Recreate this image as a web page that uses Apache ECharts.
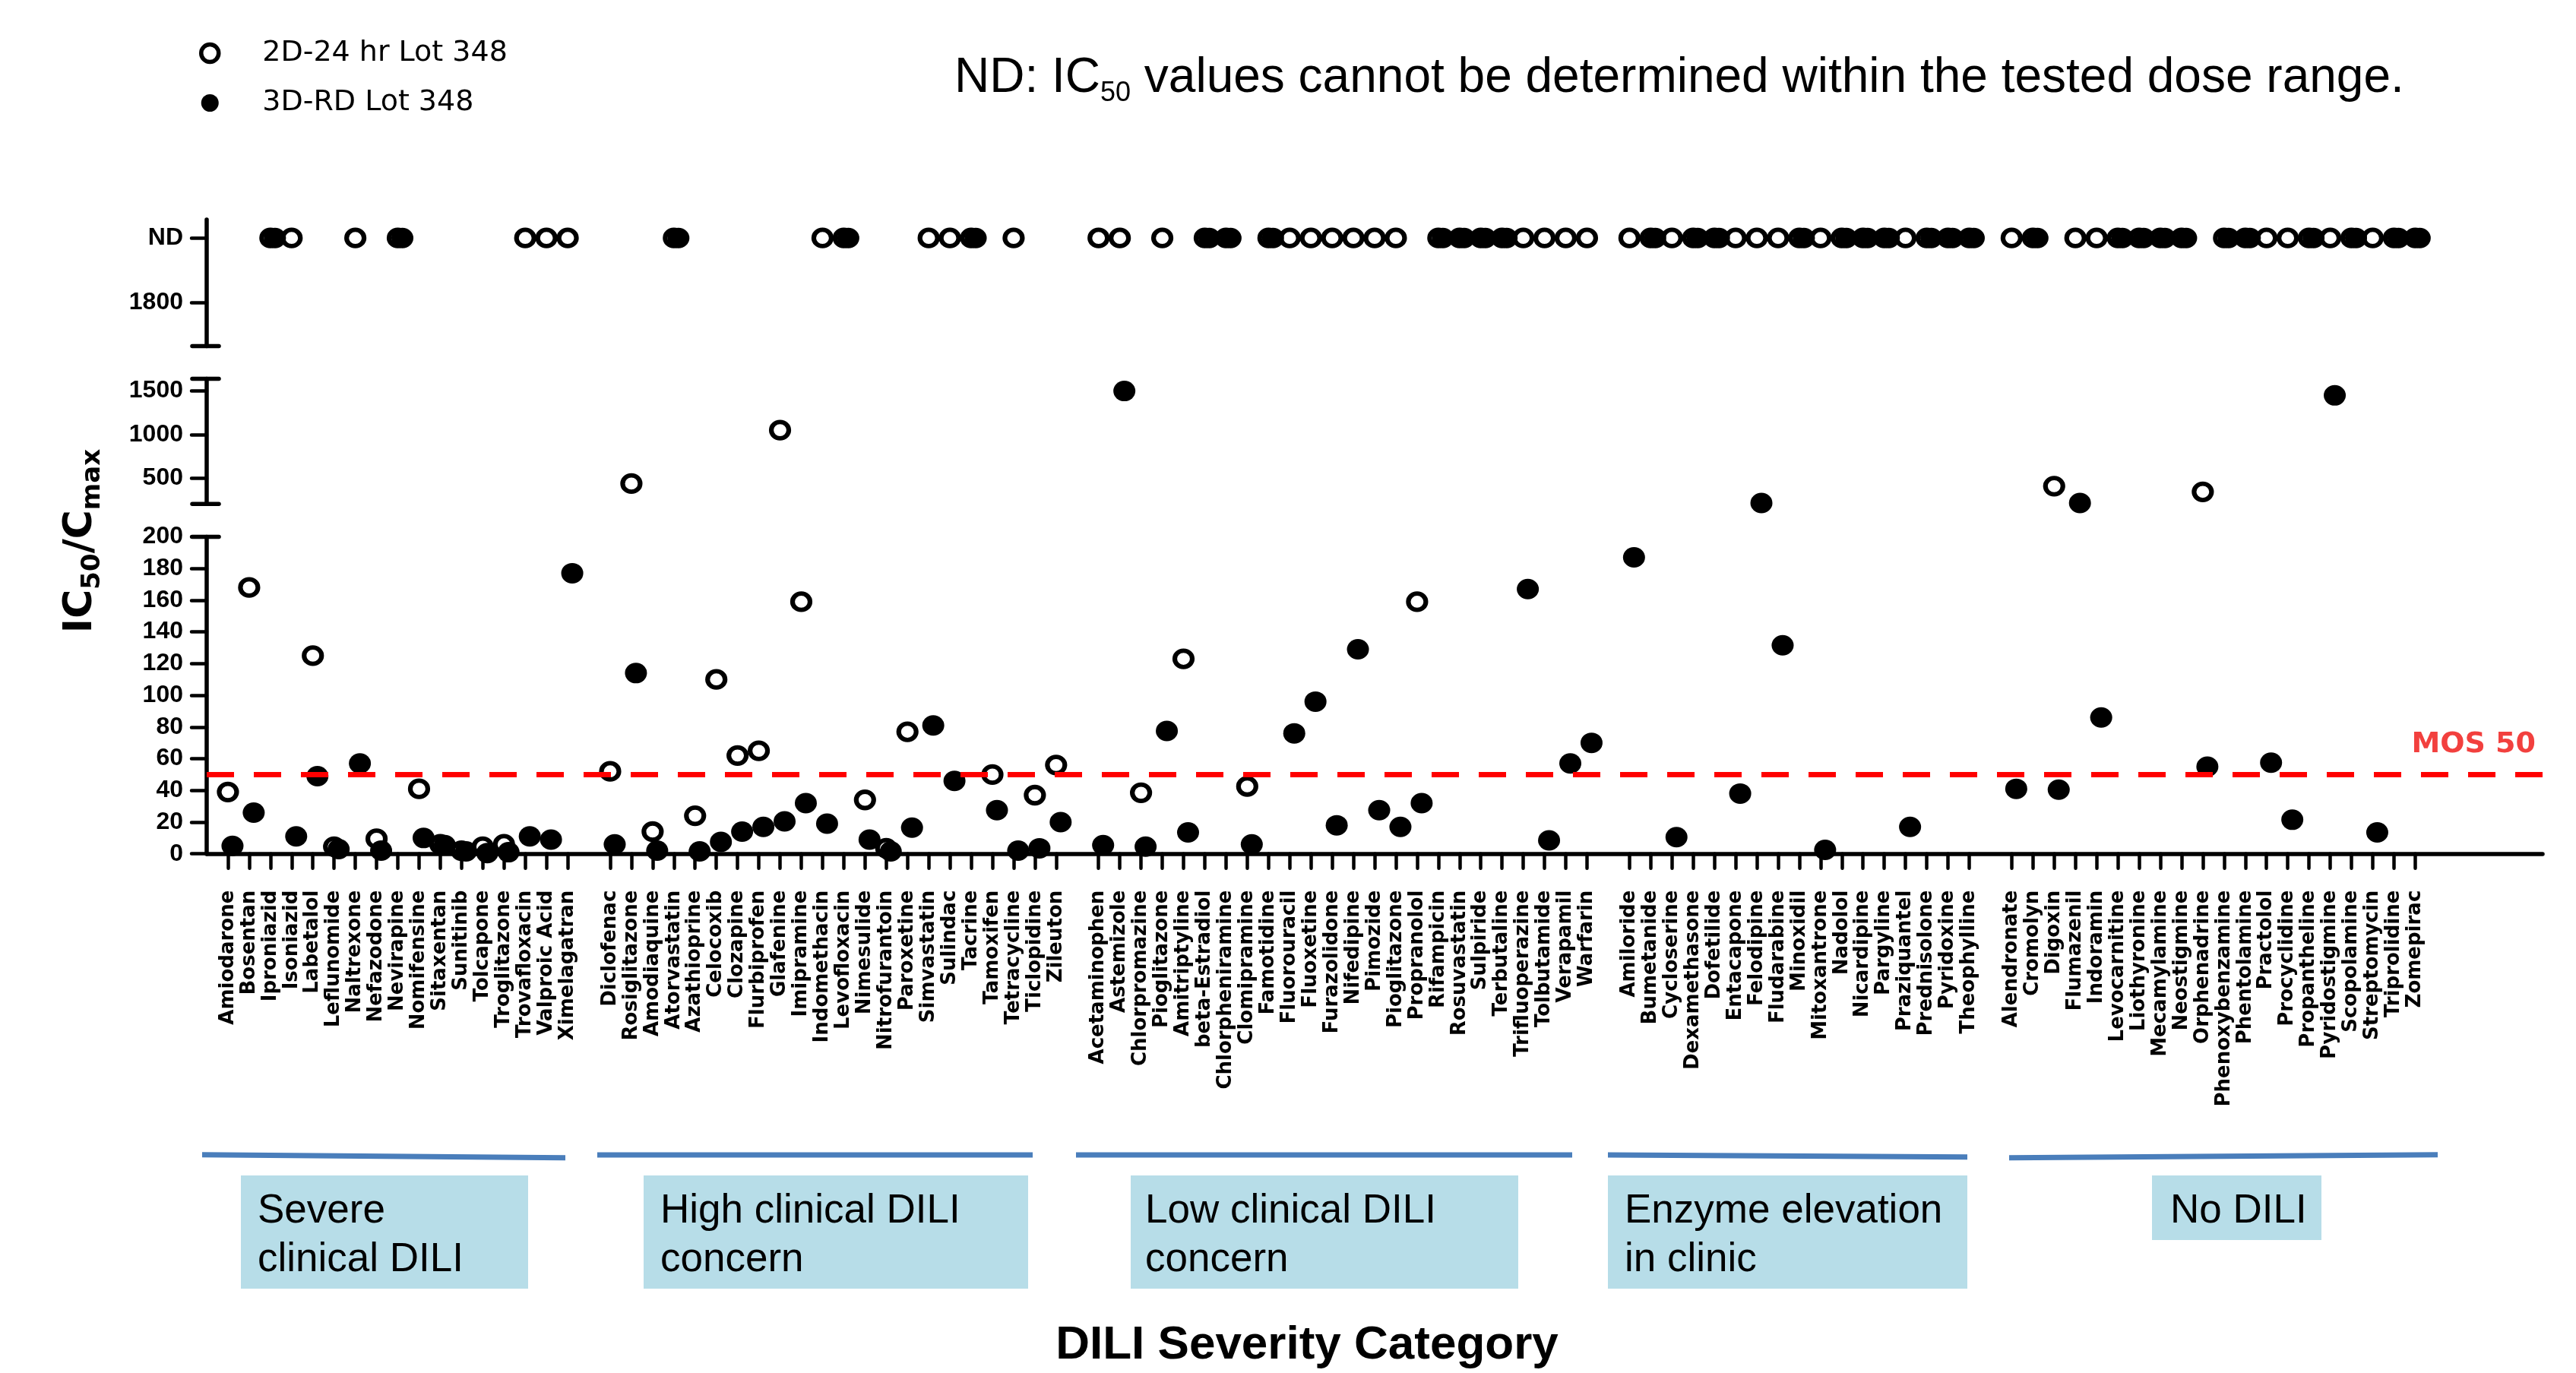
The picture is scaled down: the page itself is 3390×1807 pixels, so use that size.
<!DOCTYPE html>
<html><head><meta charset="utf-8">
<script src="https://cdn.jsdelivr.net/npm/echarts@6/dist/echarts.min.js"></script>
<style>html,body{margin:0;padding:0;background:#fff}#c{width:3390px;height:1807px}</style>
</head><body><div id="c"></div>
<script>
// ---------------- DATA ----------------
const ND = 'ND';
const NAME_2D = '2D-24 hr Lot 348';
const NAME_3D = '3D-RD Lot 348';

const severeDrugs = ['Amiodarone','Bosentan','Iproniazid','Isoniazid','Labetalol','Leflunomide','Naltrexone','Nefazodone','Nevirapine','Nomifensine','Sitaxentan','Sunitinib','Tolcapone','Troglitazone','Trovafloxacin','Valproic Acid','Ximelagatran'];
const severe2D = [39, 168, ND, ND, 125, 4.5, ND, 9.5, ND, 41, 6, 2, 4.5, 6, ND, ND, ND];
const severe3D = [5, 26, ND, 11, 49, 3, 57, 2, ND, 10, 5.5, 1.5, 0.5, 1, 11, 9, 177];

const highDrugs = ['Diclofenac','Rosiglitazone','Amodiaquine','Atorvastatin','Azathioprine','Celocoxib','Clozapine','Flurbiprofen','Glafenine','Imipramine','Indomethacin','Levofloxacin','Nimesulide','Nitrofurantoin','Paroxetine','Simvastatin','Sulindac','Tacrine','Tamoxifen','Tetracycline','Ticlopidine','Zileuton'];
const high2D = [52, 435, 14, ND, 24, 110, 62, 65, 1050, 159, ND, ND, 34, 3.5, 77, ND, ND, ND, 50, ND, 37, 56];
const high3D = [6, 114, 2, ND, 1.5, 7.5, 14, 17, 20.5, 32, 19, ND, 9, 1.5, 16.5, 81, 46, ND, 27.5, 2, 3.5, 20];

const lowDrugs = ['Acetaminophen','Astemizole','Chlorpromazine','Pioglitazone','Amitriptyline','beta-Estradiol','Chlorpheniramine','Clomipramine','Famotidine','Fluorouracil','Fluoxetine','Furazolidone','Nifedipine','Pimozide','Pioglitazone','Propranolol','Rifampicin','Rosuvastatin','Sulpiride','Terbutaline','Trifluoperazine','Tolbutamide','Verapamil','Warfarin'];
const low2D = [ND, ND, 38.5, ND, 123, ND, ND, 42.5, ND, ND, ND, ND, ND, ND, ND, 159, ND, ND, ND, ND, ND, ND, ND, ND];
const low3D = [5.5, 1500, 4.5, 77.5, 13.5, ND, ND, 6, ND, 76, 96, 18, 129, 27.5, 17, 32, ND, ND, ND, ND, 167, 8.5, 57, 70];

const enzymeDrugs = ['Amiloride','Bumetanide','Cycloserine','Dexamethasone','Dofetilide','Entacapone','Felodipine','Fludarabine','Minoxidil','Mitoxantrone','Nadolol','Nicardipine','Pargyline','Praziquantel','Prednisolone','Pyridoxine','Theophylline'];
const enzyme2D = [ND, ND, ND, ND, ND, ND, ND, ND, ND, ND, ND, ND, ND, ND, ND, ND, ND];
const enzyme3D = [187, ND, 10.5, ND, ND, 38, 212, 131.5, ND, 2.5, ND, ND, ND, 17, ND, ND, ND];

const noDiliDrugs = ['Alendronate','Cromolyn','Digoxin','Flumazenil','Indoramin','Levocarnitine','Liothyronine','Mecamylamine','Neostigmine','Orphenadrine','Phenoxybenzamine','Phentolamine','Practolol','Procyclidine','Propantheline','Pyridostigmine','Scopolamine','Streptomycin','Triprolidine','Zomepirac'];
const noDili2D = [ND, ND, 405, ND, ND, ND, ND, ND, ND, 340, ND, ND, ND, ND, ND, ND, ND, ND, ND, ND];
const noDili3D = [41, ND, 40.5, 212, 86, ND, ND, ND, ND, 55, ND, ND, 57.5, 21.5, ND, 1450, ND, 13.5, ND, ND];

const groupLabels = ['Severe\nclinical DILI', 'High clinical DILI\nconcern', 'Low clinical DILI\nconcern', 'Enzyme elevation\nin clinic', 'No DILI'];
const yTicksTop = [1800, 2000];     // 2000 = "ND" level
const yTicksMid = [500, 1000, 1500];
const MOS = 50;

// ---------------- BUILD ----------------
const groups = [
  [severeDrugs, severe2D, severe3D],
  [highDrugs, high2D, high3D],
  [lowDrugs, low2D, low3D],
  [enzymeDrugs, enzyme2D, enzyme3D],
  [noDiliDrugs, noDili2D, noDili3D]
];
const SLOTS = 111;
const categories = [''];
const all2D = [null], all3D = [null];
groups.forEach(g => {
  g[0].forEach((n, i) => { categories.push(n); all2D.push(g[1][i]); all3D.push(g[2][i]); });
  categories.push(''); all2D.push(null); all3D.push(null);
});
while (categories.length < SLOTS) { categories.push(''); all2D.push(null); all3D.push(null); }

const ND_LEVEL = 2000;
function seg(arr, which) {
  return arr.map(v => {
    if (v === null) return null;
    if (v === ND) return which === 'top' ? ND_LEVEL : null;
    if (v <= 200) return which === 'bot' ? v : null;
    return which === 'mid' ? v : null;
  });
}

const chart = echarts.init(document.getElementById('c'), null, {renderer: 'canvas'});

const L = 272, R = 44;
const grids = [
  {left: L, right: R, top: 289, height: 166.5},
  {left: L, right: R, top: 498.6, height: 164.7},
  {left: L, right: R, top: 706.4, height: 417.3}
];

const axisLineStyle = {color: '#000', width: 5.5, cap: 'round'};
const tickLineStyle = {color: '#000', width: 4.5, cap: 'round'};
const yLabel = {color: '#000', fontFamily: 'Liberation Sans', fontWeight: 'bold', fontSize: 32, margin: 31, formatter: v => v === ND_LEVEL ? 'ND' : String(v)};

const yAxes = [
  {gridIndex: 0, type: 'value', min: 1665, max: 2057,
   axisLine: {show: true, lineStyle: axisLineStyle},
   axisTick: {show: true, length: 20, lineStyle: tickLineStyle, customValues: yTicksTop},
   axisLabel: Object.assign({}, yLabel, {customValues: yTicksTop}),
   splitLine: {show: false}},
  {gridIndex: 1, type: 'value', min: 200, max: 1640,
   axisLine: {show: true, lineStyle: axisLineStyle},
   axisTick: {show: true, length: 20, lineStyle: tickLineStyle, customValues: yTicksMid},
   axisLabel: Object.assign({}, yLabel, {customValues: yTicksMid}),
   splitLine: {show: false}},
  {gridIndex: 2, type: 'value', min: 0, max: 200, interval: 20,
   axisLine: {show: true, lineStyle: axisLineStyle},
   axisTick: {show: true, length: 20, lineStyle: tickLineStyle},
   axisLabel: yLabel,
   splitLine: {show: false}}
];

const xBase = {type: 'category', data: categories, boundaryGap: false};
const xAxes = [
  Object.assign({}, xBase, {gridIndex: 0, show: false}),
  Object.assign({}, xBase, {gridIndex: 1, show: false}),
  Object.assign({}, xBase, {gridIndex: 2,
    axisLine: {show: true, onZero: false, lineStyle: axisLineStyle},
    axisTick: {show: true, length: 19, interval: (i, v) => v !== '', lineStyle: tickLineStyle},
    axisLabel: {interval: 0, rotate: 90, margin: 48, color: '#000', fontFamily: 'DejaVu Sans', fontWeight: 'bold', fontSize: 26},
    splitLine: {show: false}})
];

const openStyle = {symbol: 'circle', symbolSize: [23, 21.5], itemStyle: {color: '#fff', borderColor: '#000', borderWidth: 6, opacity: 1}, z: 2};
const fillStyle = {symbol: 'circle', symbolSize: [29, 27], symbolOffset: [6, 0], itemStyle: {color: '#000', opacity: 1}, z: 3};
const segs = ['top', 'mid', 'bot'];
const series = [];
segs.forEach((s, gi) => {
  series.push(Object.assign({name: NAME_2D, type: 'scatter', xAxisIndex: gi, yAxisIndex: gi, data: seg(all2D, s), silent: true}, openStyle));
  const s3 = Object.assign({name: NAME_3D, type: 'scatter', xAxisIndex: gi, yAxisIndex: gi, data: seg(all3D, s), silent: true}, fillStyle);
  if (s === 'bot') {
    s3.markLine = {silent: true, symbol: 'none', animation: false,
      lineStyle: {color: '#ff0000', width: 7, type: [36, 26], cap: 'butt', opacity: 1},
      label: {show: true, position: 'insideEndTop', formatter: 'MOS 50', color: '#f2403e', fontSize: 38, fontWeight: 'bold', fontFamily: 'DejaVu Sans', distance: [9, 20]},
      emphasis: {disabled: true},
      data: [{yAxis: MOS}]};
  }
  series.push(s3);
});

// decorations
const graphic = [];
[455.5, 498.6, 663.3, 706.4].forEach(y => graphic.push({type: 'line', shape: {x1: 253, y1: y, x2: 288, y2: y}, style: {stroke: '#000', lineWidth: 5.5, lineCap: 'round'}, silent: true}));
const brackets = [[266, 1519.7, 744, 1523.8], [786, 1520, 1359, 1520], [1416, 1520, 2069, 1520], [2116, 1520, 2589, 1522.7], [2644, 1523.7, 3208, 1519.7]];
brackets.forEach(b => graphic.push({type: 'line', shape: {x1: b[0], y1: b[1], x2: b[2], y2: b[3]}, style: {stroke: '#4a7ebb', lineWidth: 7}, silent: true}));
const boxes = [[317, 695, 1696, 339], [847, 1353, 1696, 869], [1488, 1998, 1696, 1507], [2116, 2589, 1696, 2138], [2832, 3055, 1632, 2856]];
boxes.forEach((b, i) => {
  graphic.push({type: 'rect', shape: {x: b[0], y: 1547, width: b[1] - b[0], height: b[2] - 1547}, style: {fill: '#b7dde8'}, silent: true});
  graphic.push({type: 'text', x: b[3], y: 1563, style: {text: groupLabels[i], fontSize: 53, fontFamily: 'Liberation Sans', fill: '#000', lineHeight: 63.4, align: 'left', verticalAlign: 'top'}, silent: true});
});
graphic.push({type: 'text', x: 1720, y: 1770.5, style: {text: 'DILI Severity Category', fontSize: 62, fontWeight: 'bold', fontFamily: 'Liberation Sans', fill: '#000', align: 'center', verticalAlign: 'middle'}, silent: true});
graphic.push({type: 'text', x: 106, y: 712, rotation: Math.PI / 2, style: {
  text: '{a|IC}{b|50}{a|/C}{b|max}', align: 'center', verticalAlign: 'middle',
  rich: {a: {fontSize: 52, fontWeight: 'bold', fontFamily: 'DejaVu Sans', fill: '#000', lineHeight: 66},
         b: {fontSize: 34, fontWeight: 'bold', fontFamily: 'DejaVu Sans', fill: '#000', lineHeight: 16, verticalAlign: 'bottom'}}}, silent: true});
graphic.push({type: 'text', x: 1256, y: 65, style: {
  text: '{a|ND: IC}{b|50}{a| values cannot be determined within the tested dose range.}', align: 'left', verticalAlign: 'top',
  rich: {a: {fontSize: 64, fontFamily: 'Liberation Sans', fill: '#000', lineHeight: 76},
         b: {fontSize: 36, fontFamily: 'Liberation Sans', fill: '#000', lineHeight: 20, verticalAlign: 'bottom'}}}, silent: true});

chart.setOption({
  animation: false,
  backgroundColor: '#fff',
  textStyle: {fontFamily: 'Liberation Sans'},
  grid: grids.map(g => Object.assign({containLabel: false, outerBoundsMode: 'none'}, g)),
  legend: {
    orient: 'vertical', left: 262, top: 51, padding: 0, itemWidth: 128, itemHeight: 23, itemGap: 27.5,
    selectedMode: false,
    textStyle: {fontFamily: 'DejaVu Sans', fontSize: 38, color: '#000'},
    data: [
      {name: NAME_2D, icon: 'circle', itemStyle: {color: '#fff', borderColor: '#000', borderWidth: 5.5, opacity: 1}},
      {name: NAME_3D, icon: 'circle', itemStyle: {color: '#000', borderWidth: 0, opacity: 1}}
    ]
  },
  xAxis: xAxes,
  yAxis: yAxes,
  series: series,
  graphic: graphic
});
</script>
</body></html>
